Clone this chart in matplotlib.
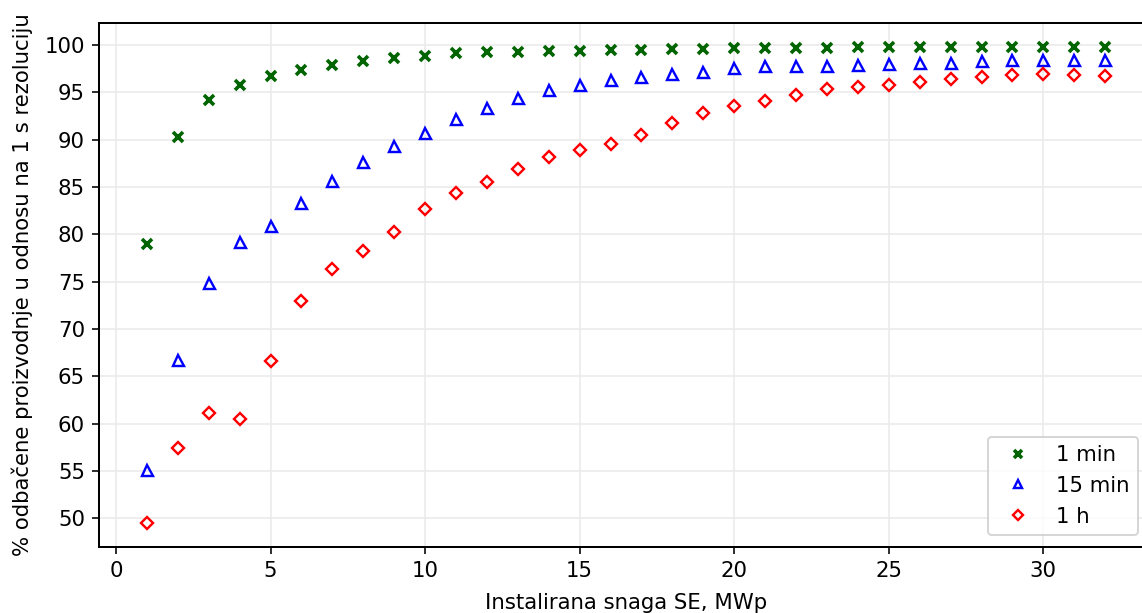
import matplotlib
matplotlib.use("Agg")
import matplotlib.pyplot as plt

snaga = list(range(1, 33))
min1 = [79.0, 90.25, 94.2, 95.8, 96.7, 97.35, 97.9, 98.3, 98.6, 98.8,
        99.1, 99.2, 99.3, 99.36, 99.4, 99.47, 99.5, 99.58, 99.6, 99.65,
        99.68, 99.7, 99.72, 99.74, 99.75, 99.76, 99.77, 99.78, 99.78, 99.79,
        99.79, 99.8]
min15 = [55.1, 66.7, 74.9, 79.2, 80.9, 83.3, 85.6, 87.6, 89.3, 90.75,
         92.2, 93.3, 94.4, 95.2, 95.8, 96.3, 96.6, 96.9, 97.1, 97.6,
         97.8, 97.8, 97.8, 97.9, 98.0, 98.06, 98.1, 98.3, 98.4, 98.4,
         98.4, 98.4]
h1 = [49.5, 57.4, 61.1, 60.5, 66.6, 73.0, 76.3, 78.2, 80.2, 82.7,
      84.4, 85.5, 86.9, 88.2, 88.95, 89.5, 90.5, 91.8, 92.8, 93.5,
      94.1, 94.7, 95.3, 95.55, 95.76, 96.05, 96.4, 96.6, 96.85, 96.9,
      96.8, 96.7]
labels = ["1 min", "15 min", "1 h"]

DPI = 144
FS = 10.6
fig = plt.figure(figsize=(1142 / DPI, 613 / DPI), dpi=DPI)
ax = fig.add_axes([0.0867, 0.1077, 0.9230, 0.8548])

ax.plot(snaga, min1, linestyle="none", marker="x", color="darkgreen",
        markersize=4.8, markeredgewidth=1.8, label=labels[0])
ax.plot(snaga, min15, linestyle="none", marker="^", markerfacecolor="none",
        markeredgecolor="blue", markersize=5.5, markeredgewidth=1.2, label=labels[1])
ax.plot(snaga, h1, linestyle="none", marker="D", markerfacecolor="none",
        markeredgecolor="red", markersize=4.2, markeredgewidth=1.2, label=labels[2])

ax.grid(True, color="#ebebeb", linewidth=0.8)
ax.set_axisbelow(True)
ax.set_yticks(range(50, 101, 5))
ax.set_xticks(range(0, 31, 5))
ax.tick_params(labelsize=FS)
ax.set_xlabel("Instalirana snaga SE, MWp", fontsize=FS, labelpad=6)
ax.set_ylabel("% odbačene proizvodnje u odnosu na 1 s rezoluciju", fontsize=FS, labelpad=6)
for s in ax.spines.values():
    s.set_linewidth(1.0)
ax.legend(loc="lower right", fontsize=FS, markerscale=0.8,
          bbox_to_anchor=(1138 / 1142, 1 - 535 / 613),
          bbox_transform=fig.transFigure, borderaxespad=0)

fig.savefig("out.png", dpi=DPI)
